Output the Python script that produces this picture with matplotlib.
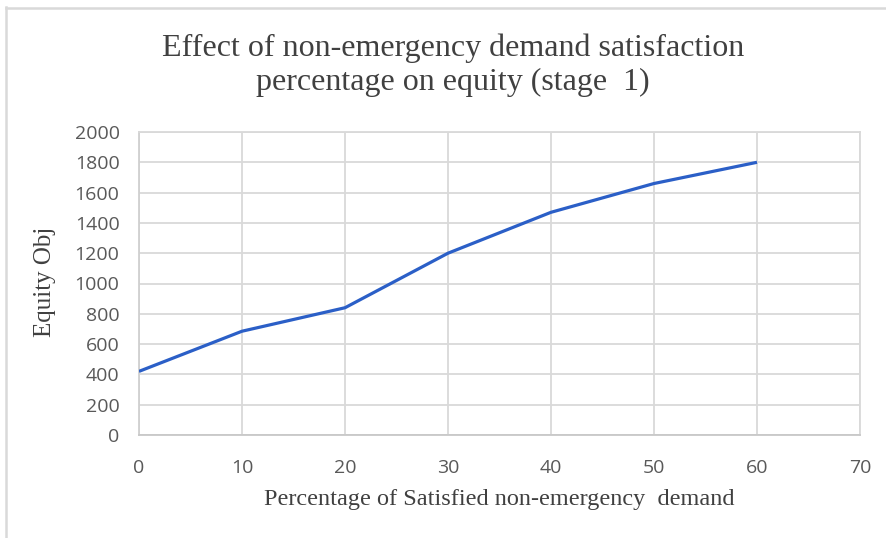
import matplotlib
matplotlib.use("Agg")
import matplotlib.pyplot as plt
from matplotlib.lines import Line2D

x_values = [0, 10, 20, 30, 40, 50, 60]
equity_obj = [420, 685, 840, 1200, 1470, 1660, 1800]
x_ticks = [0, 10, 20, 30, 40, 50, 60, 70]
y_ticks = [0, 200, 400, 600, 800, 1000, 1200, 1400, 1600, 1800, 2000]

title = "Effect of non-emergency demand satisfaction\npercentage on equity (stage  1)"
xlabel = "Percentage of Satisfied non-emergency  demand"
ylabel = "Equity Obj"

fig = plt.figure(figsize=(8.87, 5.38), dpi=100)
ax = fig.add_axes([139/887, 103/538, (860-139)/887, (435-132)/538])

ax.plot(x_values, equity_obj, color="#2b5fc7", linewidth=2.3, solid_capstyle="butt", zorder=3)
ax.set_xlim(0, 70)
ax.set_ylim(0, 2000)
ax.set_xticks(x_ticks)
ax.set_yticks(y_ticks)
ax.grid(True, color="#d9d9d9", linewidth=1.3)
ax.set_axisbelow(True)
for s in ax.spines.values():
    s.set_color("#d9d9d9")
    s.set_linewidth(1.3)
ax.spines["bottom"].set_color("#c8c8c8")
ax.spines["left"].set_color("#d0d0d0")
ax.tick_params(length=0, labelsize=14, labelcolor="#595959")
for lab in ax.get_xticklabels() + ax.get_yticklabels():
    lab.set_family("Open Sans")
ax.tick_params(axis="x", pad=17)
ax.tick_params(axis="y", pad=14)

fig.text(453/887, 1 - 65/538, title, ha="center", va="center", family="Liberation Serif",
         fontsize=23, color="#404040", linespacing=1.2)
fig.text(499/887, 1 - 499/538, xlabel, ha="center", va="center", family="Liberation Serif",
         fontsize=17.5, color="#404040")
fig.text(45/887, 1 - 282/538, ylabel, ha="center", va="center", rotation=90, family="Liberation Serif",
         fontsize=18, color="#404040")

# chart frame (left and top edges visible)
fig.add_artist(Line2D([6/887, 6/887], [0, 1 - 7/538], transform=fig.transFigure, color="#d9d9d9", linewidth=1.8))
fig.add_artist(Line2D([6/887, 1], [1 - 7.5/538, 1 - 7.5/538], transform=fig.transFigure, color="#d9d9d9", linewidth=1.8))

fig.savefig("out.png", dpi=100, facecolor="white")
